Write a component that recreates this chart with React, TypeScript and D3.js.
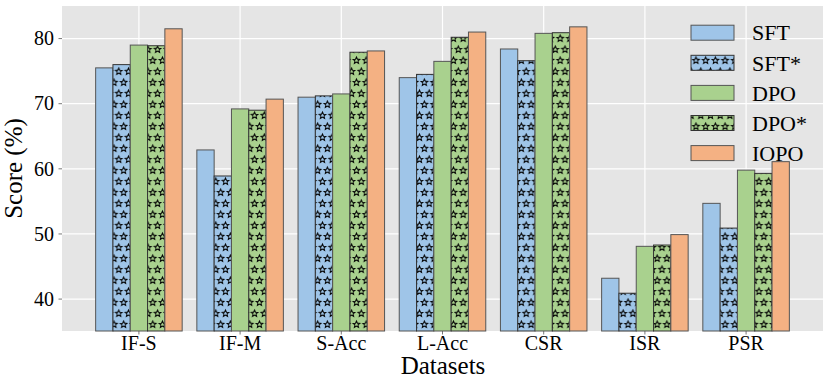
import React from 'react';
import * as d3 from 'd3';

const categories = ['IF-S', 'IF-M', 'S-Acc', 'L-Acc', 'CSR', 'ISR', 'PSR'];
const seriesNames = ['SFT', 'SFT*', 'DPO', 'DPO*', 'IOPO'];
const sft = [75.5, 62.9, 71.0, 74.0, 78.4, 43.2, 54.7];
const sftStar = [76.0, 58.9, 71.2, 74.5, 76.6, 40.9, 50.9];
const dpo = [79.0, 69.2, 71.5, 76.5, 80.8, 48.1, 59.8];
const dpoStar = [78.9, 69.0, 77.9, 80.2, 80.9, 48.3, 59.3];
const iopo = [81.5, 70.7, 78.1, 81.0, 81.8, 49.9, 61.1];
const yTicks = [40, 50, 60, 70, 80];

const seriesValues = [sft, sftStar, dpo, dpoStar, iopo];
const colors = ['#9fc5e8', '#9fc5e8', '#a9d18e', '#a9d18e', '#f4b183'];
const hatched = [false, true, false, true, false];

const W = 830;
const H = 378;
const margin = { top: 6, right: 7, bottom: 47, left: 62 };
const font = '"Liberation Serif", "Times New Roman", serif';

// star outline for the hatch
function starPath(cx: number, cy: number, r: number) {
  const pts: string[] = [];
  for (let i = 0; i < 10; i++) {
    const a = -Math.PI / 2 + (i * Math.PI) / 5;
    const rr = i % 2 === 0 ? r : r * 0.45;
    pts.push(`${cx + rr * Math.cos(a)},${cy + rr * Math.sin(a)}`);
  }
  return 'M' + pts.join('L') + 'Z';
}

function Hatch({ id, color }: { id: string; color: string }) {
  const pw = 9.7;
  const ph = 22;
  const spots = [
    [2.4, 5.5],
    [2.4 + pw, 5.5],
    [7.25, 16.5],
    [7.25 - pw, 16.5],
  ];
  return (
    <pattern id={id} patternUnits="userSpaceOnUse" width={pw} height={ph}>
      <rect width={pw} height={ph} fill={color} />
      {spots.map(([x, y], i) => (
        <path key={i} d={starPath(x, y, 3.5)} fill="none" stroke="#000" strokeWidth={1} strokeLinejoin="miter" />
      ))}
    </pattern>
  );
}

export default function App() {
  const x = d3.scaleLinear().domain([-0.76, 6.76]).range([margin.left, W - margin.right]);
  const y = d3.scaleLinear().domain([35.1, 85]).range([H - margin.bottom, margin.top]);
  const barW = 0.171;
  const bottom = H - margin.bottom;

  const fillFor = (s: number) => (hatched[s] ? `url(#hatch${s})` : colors[s]);

  return (
    <svg width={W} height={H} style={{ position: 'absolute', left: 0, top: 0 }} fontFamily={font}>
      <defs>
        <Hatch id="hatch1" color={colors[1]} />
        <Hatch id="hatch3" color={colors[3]} />
      </defs>
      <rect x={margin.left} y={margin.top} width={W - margin.left - margin.right} height={bottom - margin.top} fill="#e5e5e5" />
      {yTicks.map(t => (
        <line key={t} x1={margin.left} x2={W - margin.right} y1={y(t)} y2={y(t)} stroke="#fff" strokeWidth={1.2} />
      ))}
      {categories.map((c, i) => (
        <line key={c} x1={x(i)} x2={x(i)} y1={margin.top} y2={bottom} stroke="#fff" strokeWidth={1.2} />
      ))}

      {seriesValues.map((vals, s) =>
        vals.map((v, i) => {
          const x0 = x(i + (s - 2.5) * barW);
          const x1 = x(i + (s - 1.5) * barW);
          return (
            <rect
              key={`${s}-${i}`}
              x={x0}
              y={y(v)}
              width={x1 - x0}
              height={bottom - y(v)}
              fill={fillFor(s)}
              stroke={hatched[s] ? '#333' : '#555'}
              strokeWidth={1}
            />
          );
        })
      )}

      {/* y axis */}
      {yTicks.map(t => (
        <g key={t}>
          <line x1={margin.left - 3.5} x2={margin.left} y1={y(t)} y2={y(t)} stroke="#555" strokeWidth={0.8} />
          <text x={margin.left - 8} y={y(t)} dy="0.34em" textAnchor="end" fontSize={20} fill="#000">
            {t}
          </text>
        </g>
      ))}
      {/* x axis */}
      {categories.map((c, i) => (
        <g key={c}>
          <line x1={x(i)} x2={x(i)} y1={bottom} y2={bottom + 3.5} stroke="#555" strokeWidth={0.8} />
          <text x={x(i)} y={bottom + 19} textAnchor="middle" fontSize={20} fill="#000">
            {c}
          </text>
        </g>
      ))}

      <text x={W / 2 + 28} y={H - 4} textAnchor="middle" fontSize={25} fill="#000">
        Datasets
      </text>
      <text transform={`translate(22,${(margin.top + bottom) / 2}) rotate(-90)`} textAnchor="middle" fontSize={25} fill="#000">
        Score (%)
      </text>

      {/* legend */}
      {seriesNames.map((name, s) => {
        const cy = 32.7 + s * 30.1;
        return (
          <g key={name}>
            <rect x={691} y={cy - 7.5} width={43} height={15} fill={fillFor(s)} stroke={hatched[s] ? '#333' : '#555'} strokeWidth={1} />
            <text x={752} y={cy} dy="0.35em" fontSize={22} fill="#000">
              {name}
            </text>
          </g>
        );
      })}
    </svg>
  );
}
